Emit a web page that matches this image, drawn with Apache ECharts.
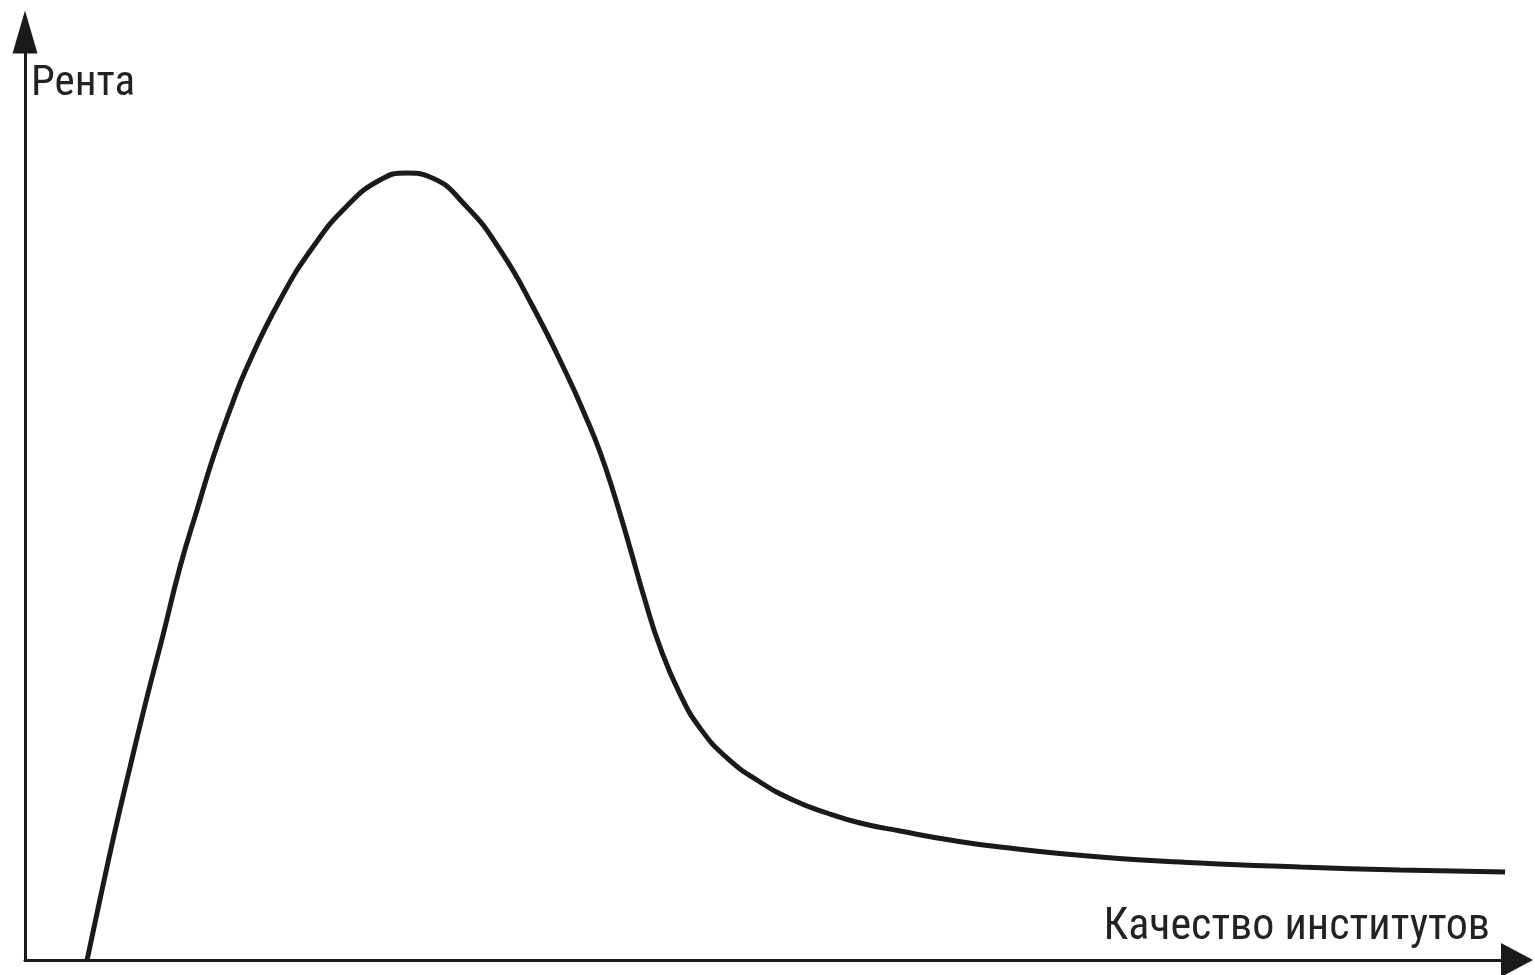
<!DOCTYPE html>
<html>
<head>
<meta charset="utf-8">
<script src="https://cdn.jsdelivr.net/npm/echarts@6/dist/echarts.min.js"></script>
<style>
html,body{margin:0;padding:0;background:#fff;}
#chart{width:1535px;height:975px;}
</style>
</head>
<body>
<div id="chart"></div>
<script>
// Quality of institutions (x, 0-100 scale) and rent (y, 0-100 scale)
const quality = [4.16, 5.03, 6.03, 7.04, 8.18, 9.25, 10.39, 11.53, 12.60, 13.74, 14.88, 17.09, 19.30, 21.58, 23.79, 25.60, 27.14, 29.62, 31.84, 34.05, 36.33, 37.53, 38.54, 39.54, 40.55, 41.55, 42.56, 43.90, 45.24, 47.05, 49.26, 51.47, 53.75, 55.97, 58.65, 62.00, 65.35, 72.05, 78.75, 85.46, 92.16, 99.20];
const rent    = [0, 6.57, 13.90, 20.80, 28.34, 35.02, 42.35, 48.49, 54.09, 59.27, 63.90, 71.12, 76.83, 81.25, 84.05, 84.81, 84.38, 81.14, 76.51, 70.37, 63.04, 58.73, 54.74, 49.89, 44.40, 38.79, 33.73, 28.66, 25.00, 21.77, 19.18, 17.24, 15.84, 14.76, 13.90, 12.93, 12.18, 11.10, 10.45, 10.02, 9.70, 9.48];
const yLabel = 'Рента';
const xLabel = 'Качество институтов';

const chart = echarts.init(document.getElementById('chart'));
const ink = '#1a1a1a';
const font = '"Roboto Condensed", "Liberation Sans Narrow", "Noto Sans", sans-serif';
chart.setOption({
  animation: false,
  backgroundColor: '#ffffff',
  grid: {left: 25, right: 18, top: 32, bottom: 15, containLabel: false},
  xAxis: {
    type: 'value', min: 0, max: 100,
    axisLine: {show: true, symbol: ['none', 'triangle'], symbolSize: [34, 32], lineStyle: {color: ink, width: 3}},
    axisTick: {show: false}, axisLabel: {show: false}, splitLine: {show: false}
  },
  yAxis: {
    type: 'value', min: 0, max: 100,
    axisLine: {show: true, symbol: ['none', 'triangle'], symbolSize: [25, 43], lineStyle: {color: ink, width: 3}},
    axisTick: {show: false}, axisLabel: {show: false}, splitLine: {show: false}
  },
  series: [{
    type: 'line',
    data: quality.map((q, i) => [q, rent[i]]),
    smooth: 0.5,
    showSymbol: false,
    lineStyle: {color: ink, width: 5}
  }],
  graphic: [
    {type: 'text', left: 31, top: 63, style: {text: yLabel, font: '43px ' + font, fill: '#222'}},
    {type: 'text', right: 45, top: 906, style: {text: xLabel, font: '44px ' + font, fill: '#222'}}
  ]
});
</script>
</body>
</html>
